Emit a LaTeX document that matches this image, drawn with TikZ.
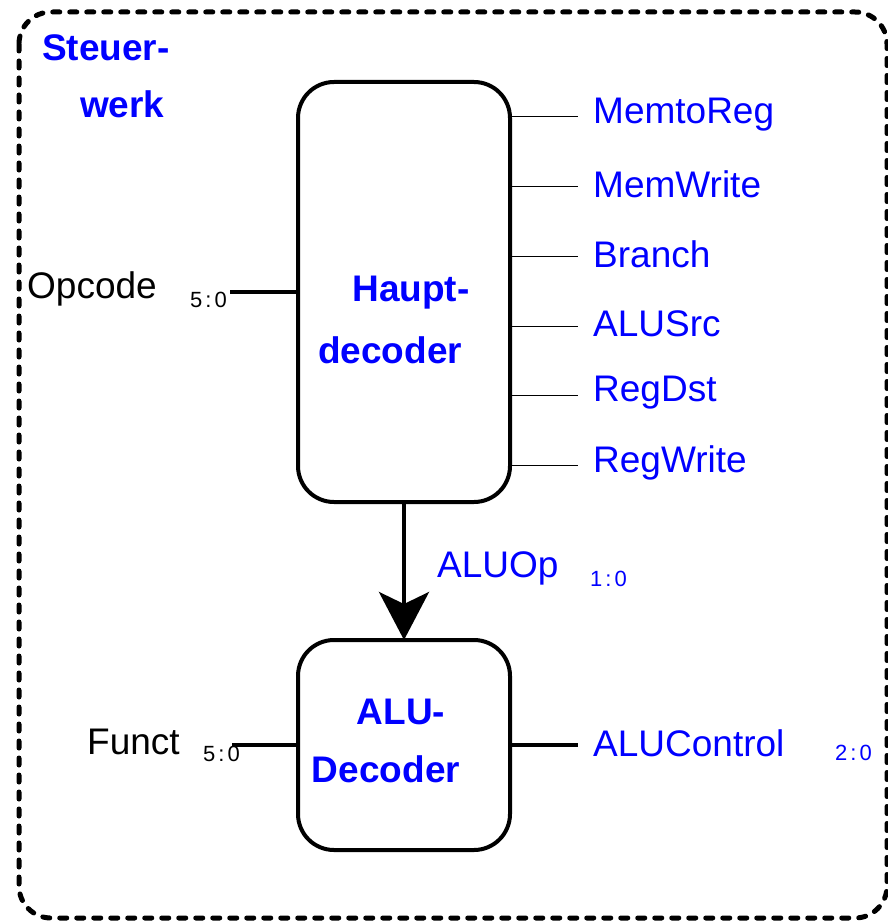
\documentclass[tikz,border=0pt]{standalone}
\usepackage{fontspec}
\setmainfont{Liberation Sans}
\usetikzlibrary{arrows.meta}
\definecolor{sigblue}{RGB}{0,0,255}
\begin{document}
\begin{tikzpicture}[x=1pt,y=-1pt,
  decbox/.style={draw,line width=4pt,rounded corners=36pt},
  lbl/.style={font=\fontsize{37}{40}\selectfont,inner sep=0pt,anchor=west},
  sig/.style={lbl,text=sigblue},
  bus/.style={font=\fontsize{22}{24}\selectfont,inner sep=0pt,anchor=west},
  boldlbl/.style={font=\fontsize{37}{40}\selectfont\bfseries,text=sigblue,inner sep=0pt},
  thin/.style={line width=1pt},
  thick/.style={line width=4pt}]
\useasboundingbox (0,0) rectangle (888,923);
% dashed frame
\draw[line width=5pt,dash pattern=on 7pt off 10pt,line cap=round,rounded corners=32pt]
  (19,12) rectangle (887,918);
\node[boldlbl,anchor=west] (t1) at (42,48) {Steuer-};
\node[boldlbl,anchor=west] (t2) at (80,104) {werk};
% boxes
\draw[decbox] (298,82) rectangle (510,502);
\draw[decbox] (298,640) rectangle (510,850);
\coordinate (hL) at (298,292);
\coordinate (aL) at (298,745);
\coordinate (aR) at (510,745);
\coordinate (hB) at (404,502);
\coordinate (aT) at (404,640);
\node[boldlbl] (h1) at (411,293) {Haupt-};
\node[boldlbl] (h2) at (390,350) {decoder};
\node[boldlbl] (d1) at (401,712) {ALU-};
\node[boldlbl] (d2) at (386,769) {Decoder};
% Opcode
\node[lbl] (op) at (27,289) {Opcode};
\node[bus] (opb) at (190,300) {5\kern3pt:\kern3pt0};
\coordinate (opS) at (230,292);
\draw[thick] (opS) -- (hL);
% outputs
\foreach \y/\t/\n in {117/MemtoReg/o1,186/MemWrite/o2,256/Branch/o3,326/ALUSrc/o4,395/RegDst/o5,465/RegWrite/o6}{
  \coordinate (s\n) at (510,\y);
  \coordinate (e\n) at (578,\y);
  \draw[thin] (s\n) -- (e\n);
  \node[sig] (\n) at (593,\y-2) {\t};
}
% ALUOp arrow
\draw[thick,-{Stealth[length=48pt,width=50pt,inset=12pt]}] (hB) -- (aT);
\node[sig] (aluop) at (437,568) {ALUOp};
\node[bus,text=sigblue] (aluopb) at (590,579) {1\kern3pt:\kern3pt0};
% Funct
\node[lbl] (fn) at (87,742) {Funct};
\node[bus] (fnb) at (203,754) {5\kern3pt:\kern3pt0};
\coordinate (fnS) at (232,745);
\draw[thick] (fnS) -- (aL);
% ALUControl
\coordinate (acE) at (578,745);
\draw[thick] (aR) -- (acE);
\node[sig] (ac) at (593,743) {ALUControl};
\node[bus,text=sigblue] (acb) at (835,753) {2\kern3pt:\kern3pt0};
\end{tikzpicture}
\end{document}
